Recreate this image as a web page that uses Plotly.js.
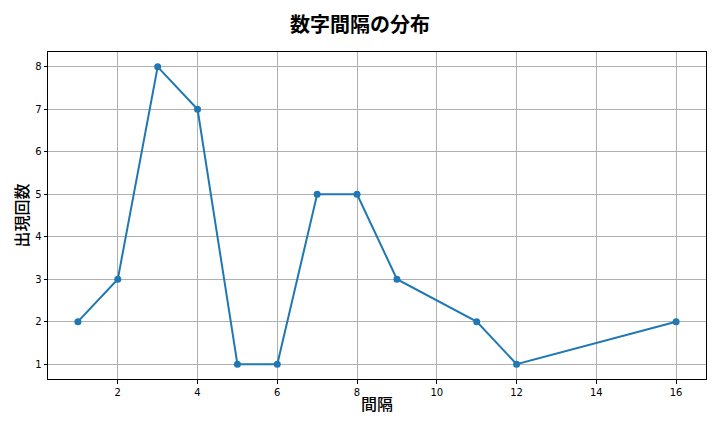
<!DOCTYPE html>
<html><head><meta charset="utf-8">
<script src="https://cdn.plot.ly/plotly-3.0.1.min.js"></script>
<style>html,body{margin:0;padding:0;background:#fff}#c{width:720px;height:432px}</style>
</head><body><div id="c"></div>
<script>
const intervals = [1, 2, 3, 4, 5, 6, 7, 8, 9, 11, 12, 16];
const counts = [2, 3, 8, 7, 1, 1, 5, 5, 3, 2, 1, 2];
const titleText = "数字間隔の分布";
const xTitle = "間隔";
const yTitle = "出現回数";
const xTicks = [2, 4, 6, 8, 10, 12, 14, 16];
const yTicks = [1, 2, 3, 4, 5, 6, 7, 8];
const cjk = "Noto Sans CJK JP, DejaVu Sans, sans-serif";
const axisCommon = {
  showline: true, mirror: true, linecolor: "#000", linewidth: 1,
  ticks: "outside", ticklen: 3.5, tickcolor: "#000", tickwidth: 1,
  showgrid: true, gridcolor: "#b0b0b0", gridwidth: 0.8, zeroline: false,
  tickfont: {family: "DejaVu Sans, sans-serif", size: 10, color: "#000"}
};
Plotly.newPlot("c", [{
  x: intervals, y: counts, type: "scatter", mode: "lines+markers",
  line: {color: "#1f77b4", width: 2},
  marker: {color: "#1f77b4", size: 7}
}], {
  width: 720, height: 432,
  margin: {l: 48, r: 14, t: 52, b: 53},
  paper_bgcolor: "#fff", plot_bgcolor: "#fff",
  showlegend: false,
  title: {text: titleText, font: {family: cjk, size: 20, color: "#000", weight: "bold"}, x: 0.5, xanchor: "center", y: 0.942, yanchor: "middle"},
  xaxis: Object.assign({}, axisCommon, {range: [0.25, 16.75], tickvals: xTicks,
    title: {text: xTitle, font: {family: cjk, size: 16, color: "#000", weight: 500}, standoff: 2}}),
  yaxis: Object.assign({}, axisCommon, {range: [0.65, 8.35], tickvals: yTicks,
    title: {text: yTitle, font: {family: cjk, size: 16, color: "#000", weight: 500}, standoff: 2}})
}, {displayModeBar: false});
</script></body></html>
